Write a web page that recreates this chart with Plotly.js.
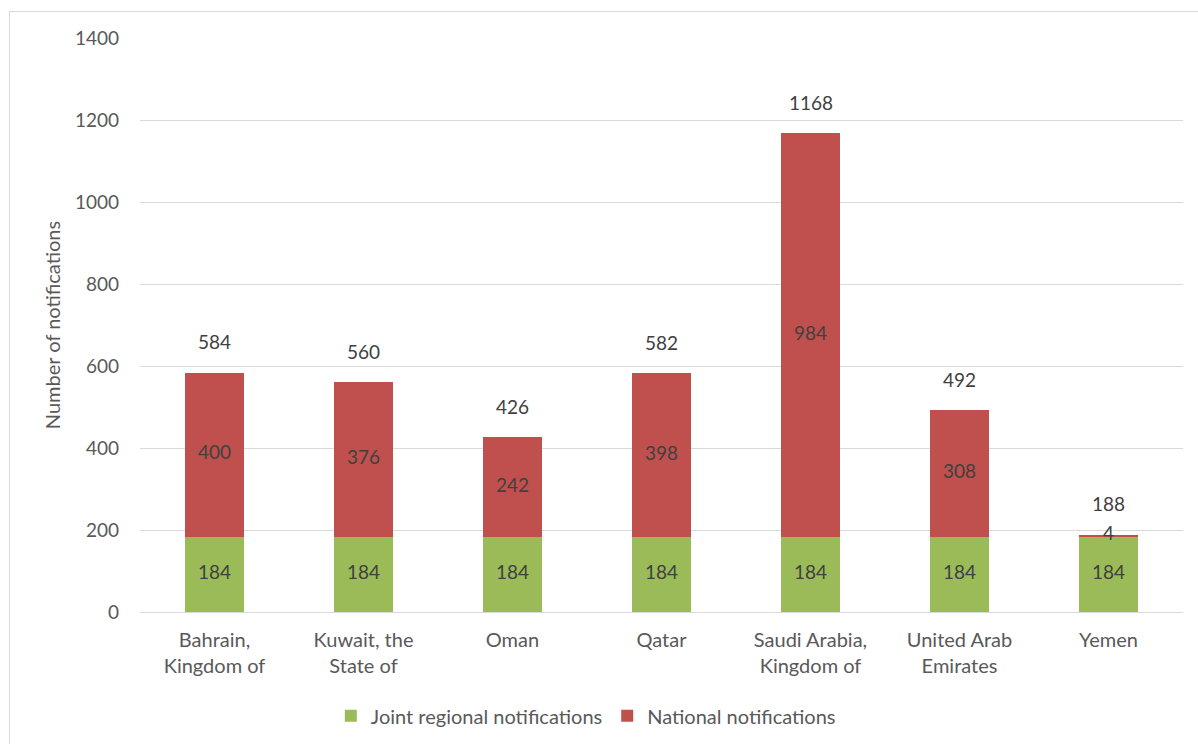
<!DOCTYPE html>
<html><head><meta charset="utf-8">
<script src="https://cdn.plot.ly/plotly-3.0.1.min.js"></script>
<style>
body{margin:0;background:#fff;}
#frame{position:absolute;left:9px;top:11px;width:1200px;height:750px;border:1px solid #d9d9d9;box-sizing:border-box;}
#chart{position:absolute;left:0;top:0;width:1198px;height:744px;}
</style></head>
<body>
<div id="frame"></div>
<div id="chart"></div>
<script>
const categories = ["Bahrain,<br>Kingdom of","Kuwait, the<br>State of","Oman","Qatar","Saudi Arabia,<br>Kingdom of","United Arab<br>Emirates","Yemen"];
const joint = [184,184,184,184,184,184,184];
const national = [400,376,242,398,984,308,4];
const totals = [584,560,426,582,1168,492,188];
const yTicks = [0,200,400,600,800,1000,1200,1400];

const fam = "Lato, 'Open Sans', sans-serif";
const font = {family:fam, size:20, color:"#595959"};
const numFont = {family:fam, size:19, color:"#404040"};

const traces = [
  {type:"bar", name:"Joint regional notifications", x:categories, y:joint, marker:{color:"#9BBB59"}, hoverinfo:"y"},
  {type:"bar", name:"National notifications", x:categories, y:national, marker:{color:"#C0504D"}, hoverinfo:"y"},
  {type:"scatter", mode:"text", x:categories, y:joint.map(v=>v/2), text:joint.map(String), textposition:"middle center", textfont:numFont, showlegend:false, hoverinfo:"skip"},
  {type:"scatter", mode:"text", x:categories, y:national.map((v,i)=>joint[i]+v/2), text:national.map(String), textposition:"middle center", textfont:numFont, showlegend:false, hoverinfo:"skip"}
];

const annotations = totals.map((t,i)=>({x:categories[i], y:t, text:String(t), showarrow:false, yshift:31, font:numFont, xref:"x", yref:"y"}));

const layout = {
  width:1198, height:744,
  margin:{l:140, r:15, t:38, b:132, autoexpand:false},
  paper_bgcolor:"rgba(0,0,0,0)", plot_bgcolor:"rgba(0,0,0,0)",
  barmode:"stack", bargap:0.6,
  font:font,
  xaxis:{tickfont:font, showgrid:false, showline:true, linecolor:"#d9d9d9", linewidth:1, ticks:"", ticklabelstandoff:10, automargin:false, fixedrange:true},
  yaxis:{range:[0,1400], tickvals:yTicks, ticktext:yTicks.map(String), tickfont:{family:fam, size:19, color:"#595959"}, gridcolor:"#d9d9d9", gridwidth:1, zeroline:false, showline:false, ticks:"", ticklen:0, ticklabelstandoff:20, automargin:false,
    title:{text:"Number of notifications", font:{family:fam, size:20, color:"#595959"}, standoff:8}},
  legend:{orientation:"h", xref:"container", yref:"container", x:0.489, xanchor:"center", y:0.038, yanchor:"middle", font:font, traceorder:"normal", itemwidth:30},
  annotations:annotations,
  showlegend:true
};
Plotly.newPlot("chart", traces, layout, {displayModeBar:false, staticPlot:true});
</script>
</body></html>
